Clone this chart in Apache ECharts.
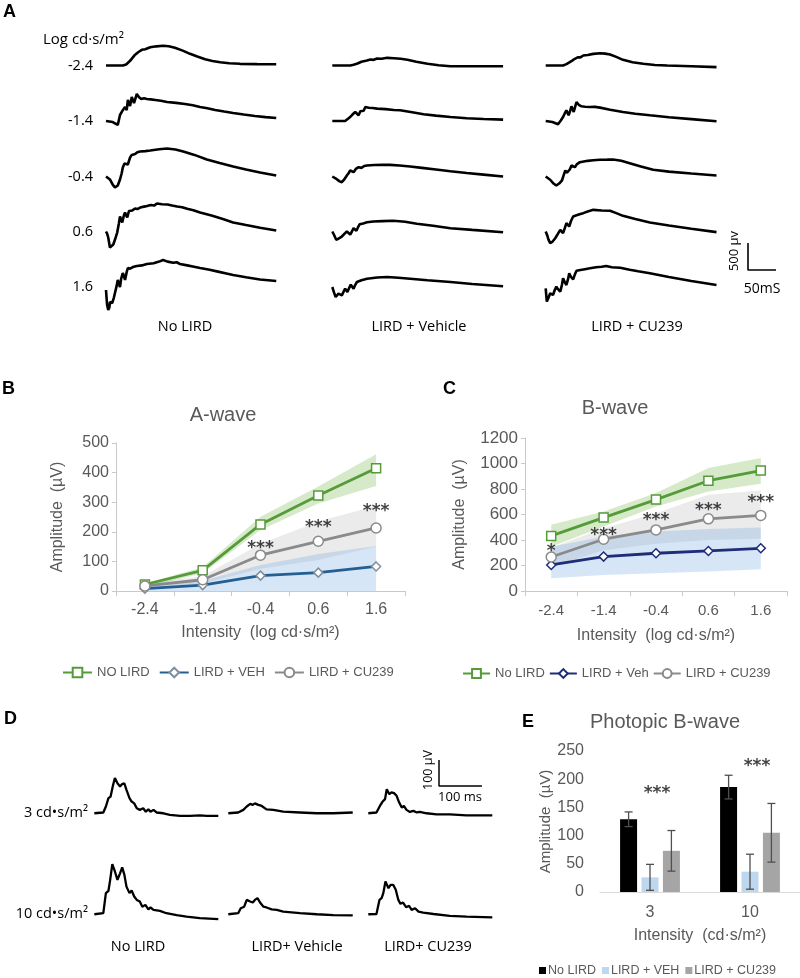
<!DOCTYPE html>
<html><head><meta charset="utf-8">
<script src="https://cdn.jsdelivr.net/npm/echarts@6/dist/echarts.min.js"></script>
<style>html,body{margin:0;padding:0;background:#fff}#main{width:800px;height:978px}</style>
</head><body><div id="main"></div>
<script>
// ---------------- DATA ----------------
// Panel A: scotopic ERG traces, [time (ms), amplitude (µV)], one list per intensity row
const A_ROW_LABELS = ['-2.4', '-1.4', '-0.4', '0.6', '1.6'];
const A_COL_LABELS = ['No LIRD', 'LIRD + Vehicle', 'LIRD + CU239'];
const A_NO_LIRD = [
  [[0,0],[30,0],[36,20],[43,87],[48,150],[52,200],[55,185],[58,250],[61,240],[64,290],[70,300],[79,337],[90,355],[102,365],[112,355],[123,327],[137,275],[150,216],[163,165],[177,115],[190,85],[204,59],[220,42],[239,31],[270,26],[304,22]],
  [[0,0],[12,-20],[21,-74],[25,111],[30,200],[34,259],[37,200],[39,389],[43,278],[46,444],[50,333],[55,500],[59,440],[63,407],[68,420],[73,407],[80,400],[88,389],[98,375],[109,352],[125,335],[141,315],[155,290],[168,259],[181,235],[195,204],[211,175],[227,148],[246,120],[266,93],[285,72],[304,56]],
  [[0,0],[7,-55],[12,-150],[16,-204],[19,-200],[21,-167],[25,-55],[28,60],[30,167],[33,240],[36,259],[39,222],[43,352],[46,400],[48,426],[52,415],[56,450],[61,463],[70,470],[79,481],[95,505],[109,518],[124,500],[138,463],[158,400],[180,315],[203,250],[227,185],[250,130],[275,75],[304,19]],
  [[0,0],[2,-40],[4,-111],[7,-296],[10,-280],[13,-241],[17,-120],[20,-19],[23,150],[25,278],[27,220],[29,167],[32,300],[34,352],[36,300],[38,259],[41,380],[43,407],[47,390],[52,426],[56,415],[61,444],[70,465],[80,490],[86,480],[91,518],[100,505],[110,500],[118,480],[127,463],[136,450],[145,420],[156,395],[168,352],[190,290],[210,225],[227,167],[250,120],[275,70],[304,19]],
  [[0,-55],[1,-200],[2,-333],[4,-426],[6,-380],[7,-278],[9,-290],[11,-296],[14,-200],[16,-111],[19,20],[21,130],[23,60],[25,0],[27,150],[30,259],[32,200],[34,130],[37,280],[39,352],[43,340],[48,370],[55,390],[64,400],[73,426],[85,440],[95,470],[102,500],[110,470],[120,450],[126,460],[132,426],[145,400],[155,380],[168,352],[185,320],[200,285],[215,250],[227,222],[250,180],[275,140],[304,111]]
];
const A_VEHICLE = [
  [[0,0],[32,0],[38,15],[45,37],[52,70],[58,85],[62,92],[68,110],[74,105],[80,130],[88,125],[98,142],[110,135],[122,125],[134,105],[150,70],[170,31],[190,5],[211,-13],[250,-13],[305,-13]],
  [[0,0],[23,0],[28,40],[32,74],[36,120],[39,90],[41,167],[44,130],[47,105],[50,180],[53,216],[56,190],[59,259],[65,245],[72,240],[80,229],[95,220],[110,205],[121,198],[140,165],[163,124],[185,100],[211,74],[240,52],[270,38],[305,26]],
  [[0,0],[8,-50],[13,-90],[17,-105],[21,-60],[26,19],[29,60],[32,111],[35,95],[38,80],[42,140],[47,172],[52,160],[57,195],[62,204],[75,212],[90,215],[103,216],[120,205],[139,185],[160,160],[185,130],[211,98],[240,65],[270,35],[305,0]],
  [[0,0],[3,-60],[7,-154],[11,-130],[17,-93],[22,-40],[26,0],[29,-20],[32,-56],[35,0],[38,61],[41,40],[43,13],[46,80],[49,135],[55,150],[62,170],[73,185],[90,192],[109,198],[130,180],[151,142],[180,105],[211,61],[250,30],[305,-13]],
  [[0,0],[3,-100],[6,-185],[9,-150],[11,-124],[14,-140],[17,-154],[20,-90],[23,-31],[25,-60],[27,-93],[30,-20],[33,43],[36,10],[38,-31],[41,40],[44,93],[52,125],[62,154],[80,175],[98,185],[118,172],[139,154],[170,125],[211,93],[250,55],[305,13]]
];
const A_CU239 = [
  [[0,0],[31,0],[37,25],[43,61],[48,95],[52,124],[55,110],[58,154],[62,150],[67,185],[75,195],[85,215],[97,228],[106,220],[115,204],[126,160],[138,105],[155,60],[174,31],[195,10],[217,0],[260,-15],[305,-31]],
  [[0,0],[12,-20],[22,-61],[27,10],[31,74],[34,140],[37,198],[39,150],[41,105],[44,200],[46,272],[48,220],[50,167],[53,280],[55,351],[59,300],[64,272],[70,265],[79,259],[88,262],[97,248],[115,210],[138,167],[160,135],[186,105],[220,70],[260,35],[305,-6]],
  [[0,0],[8,-60],[14,-130],[19,-167],[24,-130],[29,-74],[32,20],[35,111],[38,70],[40,50],[43,130],[46,204],[49,185],[52,172],[56,230],[61,265],[75,290],[85,300],[97,309],[110,312],[120,315],[135,290],[150,246],[170,185],[192,124],[220,90],[260,55],[305,19]],
  [[0,0],[3,-80],[5,-150],[8,-216],[12,-190],[17,-124],[22,-40],[26,31],[29,10],[31,-31],[34,60],[37,155],[40,120],[42,93],[45,190],[49,278],[55,300],[62,325],[67,340],[75,370],[85,401],[100,390],[115,383],[126,340],[138,290],[160,230],[186,167],[220,110],[260,50],[305,-11]],
  [[0,-24],[1,-150],[2,-270],[5,-200],[8,-117],[11,-130],[13,-148],[16,-60],[19,6],[22,-40],[26,-87],[29,40],[31,161],[34,90],[37,37],[40,150],[42,253],[45,190],[49,142],[52,230],[55,302],[62,315],[70,330],[79,346],[90,365],[100,375],[108,389],[118,365],[133,357],[150,320],[165,290],[186,253],[220,185],[260,110],[305,37]]
];
const A_SCALE = { ms: 50, uV: 500 };

// Panel D: photopic ERG traces, [time (ms), amplitude (µV)]
const D_ROW_LABELS = ['3 cd\u2022s/m\u00b2', '10 cd\u2022s/m\u00b2'];
const D_COL_LABELS = ['No LIRD', 'LIRD+ Vehicle', 'LIRD+ CU239'];
const D_NO_LIRD = [
  [[0,0],[21,3],[27,26],[33,58],[38,64],[43,103],[48,135],[54,115],[60,103],[65,112],[70,115],[75,90],[82,58],[87,45],[93,38],[99,19],[106,13],[114,19],[120,6],[126,15],[131,6],[138,13],[145,3],[161,0],[176,-6],[200,-10],[223,-10],[246,-8],[262,-10],[289,-10]],
  [[0,0],[21,4],[27,81],[33,90],[37,132],[42,192],[48,164],[54,132],[60,157],[65,180],[70,152],[75,106],[82,81],[87,91],[93,68],[99,55],[106,49],[112,29],[119,36],[126,19],[131,26],[138,17],[153,13],[168,4],[192,-3],[215,-9],[246,-15],[289,-19]]
];
const D_VEHICLE = [
  [[0,0],[23,3],[35,13],[43,26],[51,36],[57,32],[62,38],[70,32],[78,28],[89,15],[105,13],[128,6],[167,3],[206,0],[245,0],[290,3]],
  [[0,0],[23,4],[29,23],[37,29],[43,55],[51,49],[57,45],[62,55],[68,62],[74,45],[82,29],[89,26],[101,19],[113,17],[128,10],[167,4],[206,0],[245,-3],[290,-4]]
];
const D_CU239 = [
  [[0,0],[19,3],[27,28],[33,44],[39,54],[43,92],[49,73],[54,80],[60,77],[66,67],[72,41],[78,22],[83,28],[89,13],[97,5],[105,9],[113,3],[120,5],[136,0],[159,-4],[190,-4],[229,-8],[289,-8]],
  [[0,0],[19,1],[26,55],[31,62],[35,81],[40,126],[47,100],[52,113],[58,113],[64,94],[70,55],[75,40],[81,45],[88,27],[95,32],[101,17],[109,23],[117,10],[128,6],[152,1],[190,-6],[229,-9],[289,-12]]
];
const D_SCALE = { ms: 100, uV: 100 };

// Panel B: A-wave amplitude (µV)
const INTENSITY_CATS = ['-2.4', '-1.4', '-0.4', '0.6', '1.6'];
const AWAVE_NO_LIRD = [22, 70, 225, 323, 415];
const AWAVE_VEH = [8, 20, 52, 62, 83];
const AWAVE_CU239 = [17, 38, 121, 168, 213];
const AWAVE_NO_LIRD_LO = [12, 60, 206, 296, 355], AWAVE_NO_LIRD_HI = [25, 80, 251, 353, 462];
const AWAVE_CU239_LO = [10, 25, 75, 105, 150], AWAVE_CU239_HI = [25, 50, 160, 235, 288];
const AWAVE_VEH_LO = [0, 0, 0, 0, 0], AWAVE_VEH_HI = [15, 35, 88, 125, 152];
const AWAVE_STARS = ['', '', '***', '***', '***'];
const AWAVE_STAR_Y = ['-', '-', 142, 213, 267];

// Panel C: B-wave amplitude (µV)
const BWAVE_NO_LIRD = [432, 576, 717, 865, 945];
const BWAVE_VEH = [204, 270, 296, 314, 335];
const BWAVE_CU239 = [267, 406, 479, 566, 593];
const BWAVE_NO_LIRD_LO = [348, 506, 663, 781, 841], BWAVE_NO_LIRD_HI = [519, 624, 768, 964, 1043];
const BWAVE_CU239_LO = [190, 320, 370, 400, 410], BWAVE_CU239_HI = [340, 493, 610, 755, 789];
const BWAVE_VEH_LO = [100, 126, 139, 152, 170], BWAVE_VEH_HI = [348, 427, 466, 487, 498];
const BWAVE_STARS = ['*', '***', '***', '***', '***'];
const BWAVE_STAR_Y = [306, 431, 549, 627, 690];

// Panel E: photopic B-wave (µV), mean and error
const PHOTOPIC_CATS = ['3', '10'];
const PHOT_NO_LIRD = [129, 186], PHOT_NO_LIRD_ERR = [13, 21];
const PHOT_VEH = [26, 36], PHOT_VEH_ERR = [23, 31];
const PHOT_CU239 = [73, 105], PHOT_CU239_ERR = [36, 52];
const PHOT_STARS = ['***', '***'];
const PHOT_STAR_Y = [175, 223];

// ---------------- BUILD ----------------
const GREEN = '#559b3a', BLUE_B = '#245f93', NAVY = '#1f2c78', GRAY = '#8a8a8a', TXT = '#595959', AX = '#c9c9c9';
const FF = '"Liberation Sans", Arial, sans-serif';
const LF = '"Open Sans", "Noto Sans", sans-serif';
const STAR_FONT = { fontFamily: '"DejaVu Sans", sans-serif', fontSize: 17, fontWeight: 'bold', color: '#111' };
const grids = [], xAxes = [], yAxes = [], series = [], graphics = [];

function hiddenGrid(left, top, w, h, xr, yr) {
  const i = grids.length;
  grids.push({ left, top, width: w, height: h, outerBoundsMode: 'none', containLabel: false });
  xAxes.push({ type: 'value', gridIndex: i, min: xr[0], max: xr[1], show: false });
  yAxes.push({ type: 'value', gridIndex: i, min: yr[0], max: yr[1], show: false });
  return i;
}
function trace(i, data, w) {
  series.push({ type: 'line', xAxisIndex: i, yAxisIndex: i, data, symbol: 'none', clip: false,
    lineStyle: { color: '#000', width: w }, silent: true });
}
function T(text, x, y, font, align, rot, fill) {
  graphics.push({ type: 'text', x, y, rotation: rot || 0, silent: true,
    style: { text, font, fill: fill || '#000', align: align || 'left', verticalAlign: 'middle' } });
}

// Panel A traces
const A_COL_LEFT = [106, 332.3, 545.7], A_ROW_BASE = [65.5, 121, 176.5, 231.5, 287];
const A_W = 170.8, A_H = 59.4, A_X = [0, 305], A_Y = [-500, 600], A_BASE_OFF = 32.4;
[A_NO_LIRD, A_VEHICLE, A_CU239].forEach((col, c) => {
  col.forEach((rowData, r) => {
    const gi = hiddenGrid(A_COL_LEFT[c], A_ROW_BASE[r] - A_BASE_OFF, A_W, A_H, A_X, A_Y);
    trace(gi, rowData, 2.6);
  });
});
{ const gi = hiddenGrid(748, 270 - A_BASE_OFF, A_W, A_H, A_X, A_Y);
  trace(gi, [[0, A_SCALE.uV], [0, 0], [A_SCALE.ms, 0]], 1.6); }

// Panel D traces
const D_COL_LEFT = [94.3, 228.3, 368.3], D_ROW_BASE = [813.3, 914.3];
const D_W = 124, D_H = 60, D_X = [0, 289], D_Y = [-40, 190], D_BASE_OFF = 49.6;
[D_NO_LIRD, D_VEHICLE, D_CU239].forEach((col, c) => {
  col.forEach((rowData, r) => {
    const gi = hiddenGrid(D_COL_LEFT[c], D_ROW_BASE[r] - D_BASE_OFF, D_W, D_H, D_X, D_Y);
    trace(gi, rowData, 2.3);
  });
});
{ const gi = hiddenGrid(439, 786 - D_BASE_OFF, D_W, D_H, D_X, D_Y);
  trace(gi, [[0, D_SCALE.uV], [0, 0], [D_SCALE.ms, 0]], 1.5); }

// Line charts B and C
function lineChart(cfg) {
  const i = grids.length;
  grids.push({ left: cfg.left, top: cfg.top, width: cfg.width, height: cfg.height, outerBoundsMode: 'none', containLabel: false });
  xAxes.push({ type: 'category', gridIndex: i, data: INTENSITY_CATS, boundaryGap: true,
    axisLine: { lineStyle: { color: AX, width: 1 } }, axisTick: { show: true, length: 5, lineStyle: { color: AX } },
    axisLabel: { color: TXT, fontSize: cfg.xFont, fontFamily: FF, margin: cfg.xMargin },
    name: 'Intensity  (log cd\u00b7s/m\u00b2)', nameLocation: 'middle', nameGap: cfg.xNameGap,
    nameTextStyle: { color: TXT, fontSize: cfg.nameFont, fontFamily: FF } });
  yAxes.push({ type: 'value', gridIndex: i, min: 0, max: cfg.max, interval: cfg.interval,
    axisLine: { show: true, lineStyle: { color: AX, width: 1 } }, axisTick: { show: true, length: 4, lineStyle: { color: AX } },
    splitLine: { show: false },
    axisLabel: { color: TXT, fontSize: cfg.yFont, fontFamily: FF, margin: cfg.yMargin, formatter: v => String(v) },
    name: 'Amplitude  (\u00b5V)', nameLocation: 'middle', nameGap: cfg.yNameGap,
    nameTextStyle: { color: TXT, fontSize: cfg.nameFont, fontFamily: FF } });
  cfg.bands.forEach((b, k) => {
    const st = cfg.key + 'band' + k;
    series.push({ type: 'line', xAxisIndex: i, yAxisIndex: i, stack: st, data: b.lo, symbol: 'none',
      lineStyle: { opacity: 0 }, silent: true, z: 1 });
    series.push({ type: 'line', xAxisIndex: i, yAxisIndex: i, stack: st, data: b.hi.map((v, j) => v - b.lo[j]),
      symbol: 'none', lineStyle: { opacity: 0 }, areaStyle: { color: b.color, opacity: 1 }, silent: true, z: 1 });
  });
  cfg.lines.forEach(l => {
    series.push({ name: l.name, type: 'line', xAxisIndex: i, yAxisIndex: i, data: l.data, symbol: l.symbol,
      symbolSize: l.size, showAllSymbol: true, lineStyle: { color: l.color, width: 2.8 },
      itemStyle: { color: '#fff', borderColor: l.border || l.color, borderWidth: 1.5 }, z: 3 });
  });
  series.push({ type: 'scatter', xAxisIndex: i, yAxisIndex: i, data: cfg.starY, symbolSize: 1,
    itemStyle: { color: 'rgba(0,0,0,0)' }, silent: true, z: 4,
    label: Object.assign({ show: true, position: 'inside', formatter: p => cfg.stars[p.dataIndex] }, STAR_FONT) });
  return i;
}
lineChart({ key: 'B', left: 116, top: 443, width: 289, height: 148, max: 500, interval: 100,
  xFont: 16, yFont: 16, nameFont: 16, xMargin: 11, yMargin: 7, xNameGap: 34, yNameGap: 50,
  bands: [
    { lo: AWAVE_CU239_LO, hi: AWAVE_CU239_HI, color: 'rgba(170,170,170,0.24)' },
    { lo: AWAVE_NO_LIRD_LO, hi: AWAVE_NO_LIRD_HI, color: 'rgba(120,185,80,0.30)' },
    { lo: AWAVE_VEH_LO, hi: AWAVE_VEH_HI, color: 'rgba(100,160,220,0.26)' }],
  lines: [
    { name: 'B|NO LIRD', data: AWAVE_NO_LIRD, color: GREEN, symbol: 'rect', size: 9 },
    { name: 'B|LIRD + VEH', data: AWAVE_VEH, color: BLUE_B, border: '#7f8f9f', symbol: 'diamond', size: 9 },
    { name: 'B|LIRD + CU239', data: AWAVE_CU239, color: GRAY, symbol: 'circle', size: 10 }],
  stars: AWAVE_STARS, starY: AWAVE_STAR_Y });
lineChart({ key: 'C', left: 525, top: 438, width: 262, height: 153, max: 1200, interval: 200,
  xFont: 15, yFont: 17, nameFont: 16, xMargin: 12, yMargin: 7, xNameGap: 37, yNameGap: 57,
  bands: [
    { lo: BWAVE_CU239_LO, hi: BWAVE_CU239_HI, color: 'rgba(170,170,170,0.24)' },
    { lo: BWAVE_NO_LIRD_LO, hi: BWAVE_NO_LIRD_HI, color: 'rgba(120,185,80,0.30)' },
    { lo: BWAVE_VEH_LO, hi: BWAVE_VEH_HI, color: 'rgba(100,160,220,0.26)' }],
  lines: [
    { name: 'C|No LIRD', data: BWAVE_NO_LIRD, color: GREEN, symbol: 'rect', size: 9 },
    { name: 'C|LIRD + Veh', data: BWAVE_VEH, color: NAVY, symbol: 'diamond', size: 9 },
    { name: 'C|LIRD + CU239', data: BWAVE_CU239, color: GRAY, symbol: 'circle', size: 10 }],
  stars: BWAVE_STARS, starY: BWAVE_STAR_Y });

// Bar chart E
const iE = grids.length;
grids.push({ left: 600, top: 751, width: 200, height: 141, outerBoundsMode: 'none', containLabel: false });
xAxes.push({ type: 'category', gridIndex: iE, data: PHOTOPIC_CATS,
  axisLine: { lineStyle: { color: '#d9d9d9', width: 1.2 } }, axisTick: { show: false },
  axisLabel: { color: TXT, fontSize: 16, fontFamily: FF, margin: 13 },
  name: 'Intensity  (cd\u00b7s/m\u00b2)', nameLocation: 'middle', nameGap: 36,
  nameTextStyle: { color: TXT, fontSize: 16, fontFamily: FF } });
yAxes.push({ type: 'value', gridIndex: iE, min: 0, max: 250, interval: 50,
  axisLine: { show: false }, axisTick: { show: false }, splitLine: { show: false },
  axisLabel: { color: TXT, fontSize: 16, fontFamily: FF, margin: 16 },
  name: 'Amplitude  (\u00b5V)', nameLocation: 'middle', nameGap: 47,
  nameTextStyle: { color: TXT, fontSize: 15, fontFamily: FF } });
const BAR_W = 17, BAR_STEP = 21.4, CAP = 4;
const barDefs = [
  { name: 'E|No LIRD', data: PHOT_NO_LIRD, err: PHOT_NO_LIRD_ERR, color: '#000000' },
  { name: 'E|LIRD + VEH', data: PHOT_VEH, err: PHOT_VEH_ERR, color: '#bdd7ee' },
  { name: 'E|LIRD + CU239', data: PHOT_CU239, err: PHOT_CU239_ERR, color: '#a5a5a5' }];
barDefs.forEach(b => series.push({ name: b.name, type: 'bar', xAxisIndex: iE, yAxisIndex: iE, data: b.data,
  barWidth: BAR_W, barGap: '26%', itemStyle: { color: b.color }, z: 2 }));
barDefs.forEach((b, k) => series.push({ type: 'custom', xAxisIndex: iE, yAxisIndex: iE, z: 5, silent: true,
  encode: { x: 0, y: 1 },
  data: b.data.map((m, j) => [j, m, b.err[j]]),
  renderItem: (params, api) => {
    const j = api.value(0), m = api.value(1), e = api.value(2);
    const top = api.coord([j, m + e]), bot = api.coord([j, m - e]);
    const x = top[0] + (k - 1) * BAR_STEP;
    const style = { stroke: '#505050', lineWidth: 1.3 };
    return { type: 'group', children: [
      { type: 'line', shape: { x1: x, y1: top[1], x2: x, y2: bot[1] }, style },
      { type: 'line', shape: { x1: x - CAP, y1: top[1], x2: x + CAP, y2: top[1] }, style },
      { type: 'line', shape: { x1: x - CAP, y1: bot[1], x2: x + CAP, y2: bot[1] }, style }] };
  } }));
series.push({ type: 'scatter', xAxisIndex: iE, yAxisIndex: iE, data: PHOT_STAR_Y, symbolSize: 1,
  itemStyle: { color: 'rgba(0,0,0,0)' }, silent: true, z: 6,
  label: Object.assign({ show: true, position: 'inside', offset: [7, 0], formatter: p => PHOT_STARS[p.dataIndex] }, STAR_FONT) });

// Texts
const BOLD = 'bold 18px ' + FF;
T('A', 3, 12, BOLD);
T('Log cd\u00b7s/m\u00b2', 43, 40, '15px ' + LF);
A_ROW_LABELS.forEach((s, r) => T(s, 93, A_ROW_BASE[r], '14.5px ' + LF, 'right'));
[185, 419, 637].forEach((x, c) => T(A_COL_LABELS[c], x, 327, '14.5px ' + LF, 'center'));
T('500 \u00b5v', 734, 251, '13px ' + LF, 'center', Math.PI / 2);
T('50mS', 762, 289, '14px ' + LF, 'center');
T('D', 4, 719, BOLD);
D_ROW_LABELS.forEach((s, r) => T(s, 88, D_ROW_BASE[r], '14.5px ' + LF, 'right'));
[138, 297, 428].forEach((x, c) => T(D_COL_LABELS[c], x, 947, '14.5px ' + LF, 'center'));
T('100 \u00b5V', 428, 770, '12.5px ' + LF, 'center', Math.PI / 2);
T('100 ms', 460, 797, '13px ' + LF, 'center');
T('B', 2, 389, BOLD);
T('A-wave', 223, 415, '20px ' + FF, 'center', 0, TXT);
T('C', 443, 389, BOLD);
T('B-wave', 615, 408, '20px ' + FF, 'center', 0, TXT);
T('E', 522, 722, BOLD);
T('Photopic B-wave', 665, 722, '20px ' + FF, 'center', 0, TXT);

const strip = n => n.slice(2);
const option = {
  animation: false,
  backgroundColor: '#fff',
  grid: grids, xAxis: xAxes, yAxis: yAxes, series,
  legend: [
    { left: 57, top: 661, itemWidth: 29, itemHeight: 12, itemGap: 9, formatter: strip,
      data: ['B|NO LIRD', 'B|LIRD + VEH', 'B|LIRD + CU239'], textStyle: { color: TXT, fontSize: 13, fontFamily: FF } },
    { left: 457, top: 662, itemWidth: 27, itemHeight: 11, itemGap: 4, formatter: strip,
      data: ['C|No LIRD', 'C|LIRD + Veh', 'C|LIRD + CU239'], textStyle: { color: TXT, fontSize: 13, fontFamily: FF } },
    { left: 539, top: 964, width: 300, padding: 0, itemWidth: 7, itemHeight: 7, itemGap: 6, icon: 'rect', formatter: strip,
      data: ['E|No LIRD', 'E|LIRD + VEH', 'E|LIRD + CU239'], textStyle: { color: TXT, fontSize: 12.5, fontFamily: FF, padding: [0, 0, 0, -3] } }
  ],
  graphic: graphics
};
const chart = echarts.init(document.getElementById('main'));
chart.setOption(option);
</script></body></html>
